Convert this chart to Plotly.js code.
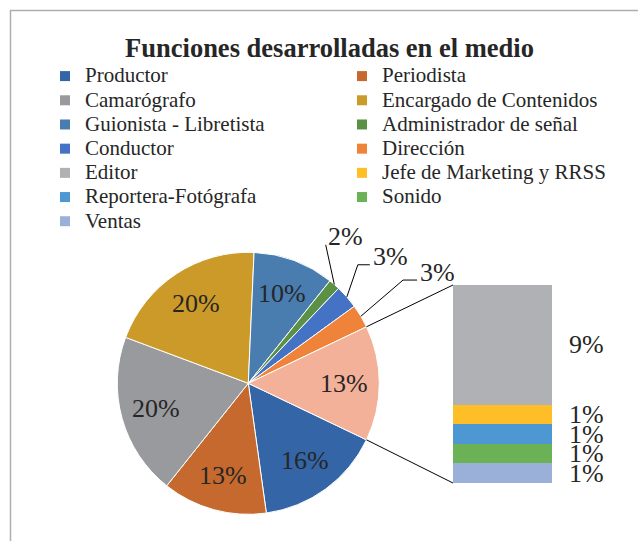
<!DOCTYPE html>
<html>
<head>
<meta charset="utf-8">
<script src="https://cdn.plot.ly/plotly-3.0.1.min.js"></script>
<style>html,body{margin:0;padding:0;background:#fff}#chart{width:638px;height:541px}</style>
</head>
<body>
<div id="chart"></div>
<script>
// ---------- data ----------
const pieCategories = ["Productor", "Periodista", "Camarógrafo", "Encargado de Contenidos",
  "Guionista - Libretista", "Administrador de señal", "Conductor", "Dirección"];
const pieValues = [15.7, 12.9, 20.0, 20.0, 10.0, 1.4, 2.9, 2.9];
const pieLabels = ["16%", "13%", "20%", "20%", "10%", "2%", "3%", "3%"];

const barCategories = ["Editor", "Jefe de Marketing y RRSS", "Reportera-Fotógrafa", "Sonido", "Ventas"];
const barValues = [8.6, 1.4, 1.4, 1.4, 1.4];
const barLabels = ["9%", "1%", "1%", "1%", "1%"];

const otherName = "Otros";
const otherLabel = "13%";

// ---------- styles / layout ----------
const pieColors = ["#3465A7", "#C5692F", "#999A9D", "#CC9A29", "#497DB0", "#5A9145", "#4472C4", "#EF833A"];
const barColors = ["#B0B1B4", "#FDBE28", "#4D98D3", "#6BB155", "#9BB0D8"];
const otherColor = "#F4B19A";
const textColor = "#262626";
const serif = "Liberation Serif";

const W = 638, H = 541;
const pieBox = {cx: 248.3, cy: 383.3, r: 131};
const barBox = {x0: 453, x1: 552, y0: 285, y1: 483};
const insideRadiusFrac = 0.73;
// outside labels: [dx of text left from slice edge point, dy of text centre, elbow length]
const outsideStyle = {5: [-6.6, -47.7, 0], 6: [26, -40.2, 12], 7: [59.2, -44.2, 14]};

// ---------- derived ----------
const otherTotal = barValues.reduce((a, b) => a + b, 0);
const allValues = pieValues.concat([otherTotal]);
const total = allValues.reduce((a, b) => a + b, 0);
const otherDeg = otherTotal / total * 360;
const rotation = 90 + otherDeg / 2;

const rad = d => d * Math.PI / 180;
const ptPx = (deg, dist) => [pieBox.cx + dist * Math.sin(rad(deg)), pieBox.cy - dist * Math.cos(rad(deg))];
const px2x = x => x / W;
const px2y = y => 1 - y / H;

const traces = [];

// legend-only entries (Excel legend excludes the "Other" slice)
const legendNames = pieCategories.concat(barCategories);
const legendColors = pieColors.concat(barColors);
legendNames.forEach((n, i) => {
  traces.push({
    type: "scatter", mode: "markers", x: [null], y: [null],
    name: '<span style="font-size:21px">' + n + '</span>',
    marker: {symbol: "square", size: 10, color: legendColors[i], line: {width: 0}},
    showlegend: true, hoverinfo: "skip"
  });
});

// main pie
traces.push({
  type: "pie",
  labels: pieCategories.concat([otherName]),
  values: allValues,
  sort: false,
  direction: "clockwise",
  rotation: rotation,
  marker: {colors: pieColors.concat([otherColor]), line: {color: "#ffffff", width: 1}},
  textinfo: "none",
  hoverinfo: "label+percent",
  showlegend: false,
  domain: {x: [px2x(pieBox.cx - pieBox.r), px2x(pieBox.cx + pieBox.r)],
           y: [px2y(pieBox.cy + pieBox.r), px2y(pieBox.cy - pieBox.r)]}
});

// stacked bar (bottom = last category)
for (let i = barCategories.length - 1; i >= 0; i--) {
  traces.push({
    type: "bar", x: [0], y: [barValues[i]], width: [1],
    name: barCategories[i], marker: {color: barColors[i], line: {width: 0}},
    showlegend: false, hoverinfo: "name+y"
  });
}

// annotations & shapes
const annotations = [];
const shapes = [];
const labelFont = {family: serif, size: 26, color: textColor};

let acc = rotation;
allValues.forEach((v, i) => {
  const deg = v / total * 360;
  const mid = acc + deg / 2;
  const text = i < pieLabels.length ? pieLabels[i] : otherLabel;
  if (outsideStyle[i]) {
    const p = ptPx(mid, pieBox.r);
    const s = outsideStyle[i];
    const left = p[0] + s[0], cyL = p[1] + s[1];
    annotations.push({xref: "paper", yref: "paper", x: px2x(left - 2), y: px2y(cyL),
      xanchor: "left", yanchor: "middle", text: text, showarrow: false, font: labelFont});
    const endY = cyL + 8;
    let path = "M" + px2x(p[0]) + "," + px2y(p[1]);
    if (s[2] > 0) {
      path += " L" + px2x(left - 3 - s[2]) + "," + px2y(endY) + " L" + px2x(left - 3) + "," + px2y(endY);
    } else {
      path += " L" + px2x(left - 2) + "," + px2y(endY);
    }
    shapes.push({type: "path", xref: "paper", yref: "paper", path: path,
      line: {color: "#000000", width: 1}});
  } else {
    const p = ptPx(mid, pieBox.r * insideRadiusFrac);
    annotations.push({xref: "paper", yref: "paper", x: px2x(p[0]), y: px2y(p[1]),
      xanchor: "center", yanchor: "middle", text: text, showarrow: false, font: labelFont});
  }
  acc += deg;
});

// bar labels
let base = 0;
for (let i = barCategories.length - 1; i >= 0; i--) {
  annotations.push({xref: "x", yref: "y", x: 0.5, y: base + barValues[i] / 2,
    xanchor: "left", yanchor: "middle", xshift: 14.5, text: barLabels[i], showarrow: false, font: labelFont});
  base += barValues[i];
}

// connectors pie -> bar
const otherStart = rotation - otherDeg, otherEnd = rotation;
const pA = ptPx(otherStart, pieBox.r), pB = ptPx(otherEnd, pieBox.r);
shapes.push({type: "line", xref: "paper", yref: "paper",
  x0: px2x(pA[0]), y0: px2y(pA[1]), x1: px2x(barBox.x0), y1: px2y(barBox.y0),
  line: {color: "#000000", width: 1}});
shapes.push({type: "line", xref: "paper", yref: "paper",
  x0: px2x(pB[0]), y0: px2y(pB[1]), x1: px2x(barBox.x0), y1: px2y(barBox.y1),
  line: {color: "#000000", width: 1}});

// chart frame (top and left edges visible)
shapes.push({type: "line", xref: "paper", yref: "paper", x0: px2x(10), y0: px2y(10.5), x1: 1.01, y1: px2y(10.5),
  line: {color: "#AEAEAE", width: 1.5}});
shapes.push({type: "line", xref: "paper", yref: "paper", x0: px2x(10.5), y0: px2y(10), x1: px2x(10.5), y1: -0.01,
  line: {color: "#AEAEAE", width: 1.5}});

const layout = {
  width: W, height: H,
  margin: {l: 0, r: 0, t: 0, b: 0, autoexpand: false},
  paper_bgcolor: "#ffffff", plot_bgcolor: "rgba(0,0,0,0)",
  title: {text: "<b>Funciones desarrolladas en el medio</b>",
    font: {family: serif, size: 26.5, color: textColor},
    xref: "paper", yref: "paper", x: px2x(329.5), xanchor: "center", y: px2y(47.5), yanchor: "middle"},
  showlegend: true,
  legend: {orientation: "h", x: px2x(45), xanchor: "left", y: px2y(59), yanchor: "top",
    font: {family: serif, size: 16.3, color: textColor},
    entrywidth: 252, entrywidthmode: "pixels", itemsizing: "trace", traceorder: "normal",
    bgcolor: "rgba(0,0,0,0)"},
  barmode: "stack",
  xaxis: {domain: [px2x(barBox.x0), px2x(barBox.x1)], range: [-0.5, 0.5], visible: false, fixedrange: true},
  yaxis: {domain: [px2y(barBox.y1), px2y(barBox.y0)], range: [0, otherTotal], visible: false, fixedrange: true},
  annotations: annotations,
  shapes: shapes
};

Plotly.newPlot("chart", traces, layout, {displayModeBar: false, staticPlot: true});
</script>
</body>
</html>
